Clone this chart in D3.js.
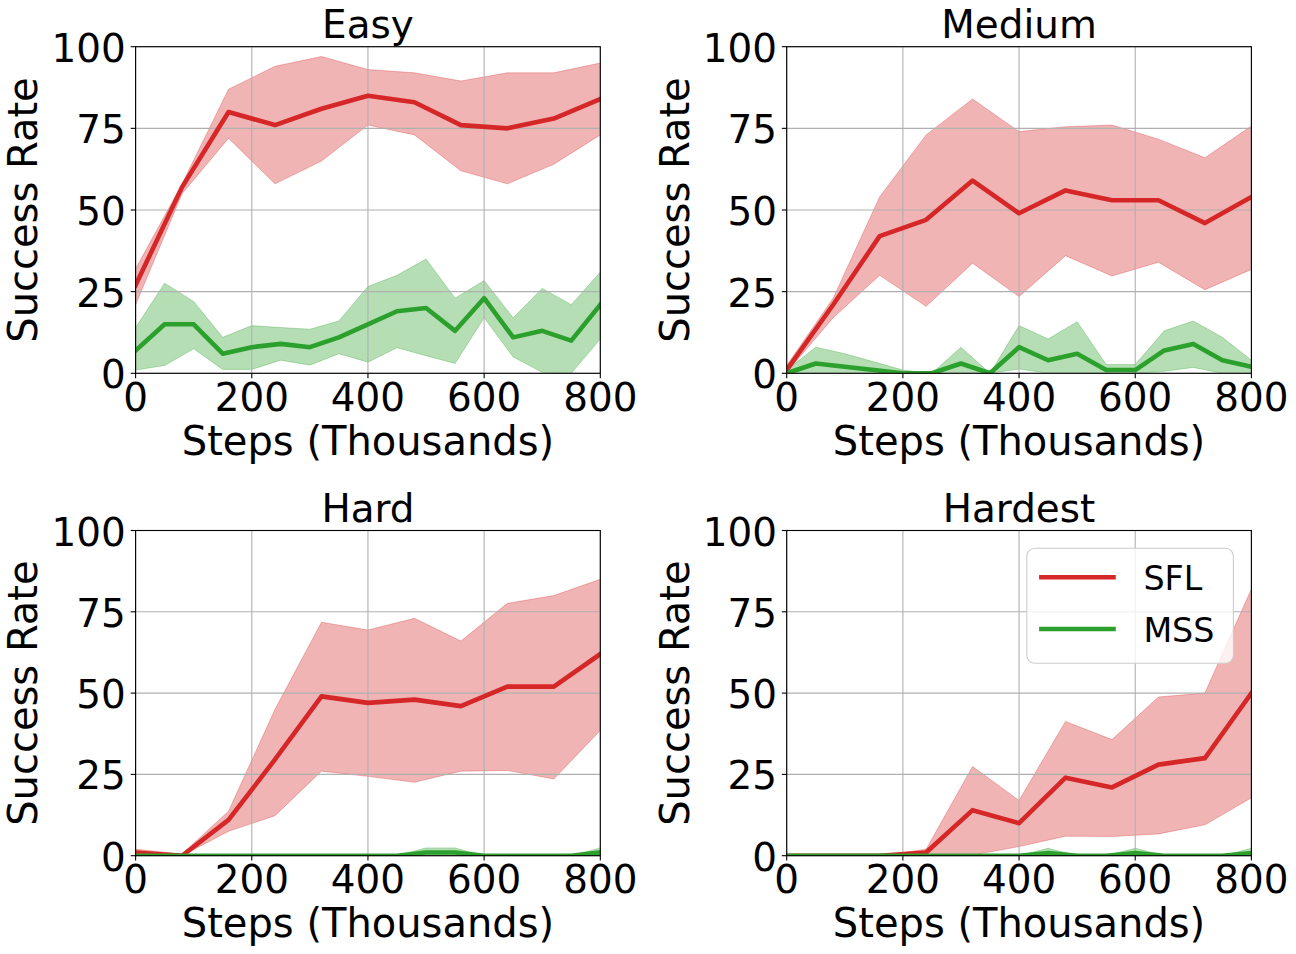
<!DOCTYPE html>
<html><head><meta charset="utf-8">
<script src="https://cdn.jsdelivr.net/npm/d3@7"></script>
<style>body{margin:0;background:#fff}</style>
</head><body>
<svg id="chart" width="1296" height="954"></svg>
<script>
// ---------- data ----------
const titles = ["Easy", "Medium", "Hard", "Hardest"];
const seriesNames = ["SFL", "MSS"];
const xTicks = [0, 200, 400, 600, 800];
const yTicks = [0, 25, 50, 75, 100];
const xLabel = "Steps (Thousands)";
const yLabel = "Success Rate";

const sflSteps = [0, 80, 160, 240, 320, 400, 480, 560, 640, 720, 800];
const mssSteps = [0, 50, 100, 150, 200, 250, 300, 350, 400, 450, 500, 550, 600, 650, 700, 750, 800];

const easySflMean  = [27, 57, 80, 76, 81, 85, 83, 76, 75, 78, 84];
const easySflUpper = [32, 58, 87, 94, 97, 93, 92, 89.5, 92, 92, 95];
const easySflLower = [21, 55, 72, 58, 65, 76, 73, 62, 58, 64, 73];
const easyMssMean  = [7, 15, 15, 6, 8, 9, 8, 11, 15, 19, 20, 13, 23, 11, 13, 10, 21];
const easyMssUpper = [14, 27.6, 22, 11, 14.6, 14, 13.5, 16, 26.6, 30, 35, 23, 28.4, 17, 26, 21, 31];
const easyMssLower = [1, 2.4, 7.5, 1.2, 1.2, 4, 2.5, 6, 3.4, 7.8, 5.4, 3, 17, 5, 0.3, 0, 10.5];

const mediumSflMean  = [1, 21, 42, 47, 59, 49, 56, 53, 53, 46, 54];
const mediumSflUpper = [2.4, 23, 54, 73, 84, 74, 75.5, 76, 71.7, 66, 75.7];
const mediumSflLower = [0.3, 17, 30, 20.5, 33.7, 23.5, 36, 29.8, 34, 25.6, 31.8];
const mediumMssMean  = [0, 3, 2, 1, 0, 0, 3, 0, 8, 4, 6, 1, 1, 7, 9, 4, 2];
const mediumMssUpper = [1, 8, 6, 3.5, 1, 0, 8, 0, 14.6, 10.5, 15.8, 2.7, 2.7, 13, 16, 11, 4];
const mediumMssLower = [0, 0, 0, 0, 0, 0, 0, 0, 1.3, 0, 0, 0, 0, 0.6, 1.8, 0, 0];

const hardSflMean  = [1, 0, 11, 29.6, 49, 47, 48, 46, 52, 52, 62];
const hardSflUpper = [2, 0.5, 13.7, 45, 71.8, 69.4, 73, 66, 77.6, 80, 85];
const hardSflLower = [0, 0, 7.5, 12.3, 26, 24.4, 22.6, 26, 26.2, 23.6, 38.5];
const hardMssMean  = [0, 0, 0, 0, 0, 0, 0, 0, 0, 0, 1, 1, 0, 0, 0, 0, 1];
const hardMssUpper = [0, 0, 0, 0, 0, 0, 0, 0, 0, 0, 2.4, 2.4, 0, 0, 0, 0, 2.4];
const hardMssLower = [0, 0, 0, 0, 0, 0, 0, 0, 0, 0, 0, 0, 0, 0, 0, 0, 0];

const hardestSflMean  = [0, 0, 0, 1, 14, 10, 24, 21, 28, 30, 50];
const hardestSflUpper = [0, 0, 0, 2, 27.4, 17, 41.3, 35.7, 48.8, 50, 82];
const hardestSflLower = [0, 0, 0, 0, 0.2, 2.8, 6, 5.9, 6.7, 9.5, 17.8];
const hardestMssMean  = [0, 0, 0, 0, 0, 0, 0, 0, 0, 0.8, 0, 0, 0.8, 0, 0, 0, 0.8];
const hardestMssUpper = [0, 0, 0, 0, 0, 0, 0, 0, 0, 2.3, 0, 0, 2.3, 0, 0, 0, 2.3];
const hardestMssLower = [0, 0, 0, 0, 0, 0, 0, 0, 0, 0, 0, 0, 0, 0, 0, 0, 0];

// ---------- build ----------
const panelData = [
  { sfl: [easySflMean, easySflLower, easySflUpper], mss: [easyMssMean, easyMssLower, easyMssUpper] },
  { sfl: [mediumSflMean, mediumSflLower, mediumSflUpper], mss: [mediumMssMean, mediumMssLower, mediumMssUpper] },
  { sfl: [hardSflMean, hardSflLower, hardSflUpper], mss: [hardMssMean, hardMssLower, hardMssUpper] },
  { sfl: [hardestSflMean, hardestSflLower, hardestSflUpper], mss: [hardestMssMean, hardestMssLower, hardestMssUpper] }
];
const colors = { SFL: "#d62728", MSS: "#2ca02c" };

const colX = [135.6, 786.7];
const rowY = [46.7, 530.5];
const W = 464.7;
const rowH = [326.6, 325.2];
const FONT = "DejaVu Sans, Liberation Sans, sans-serif";
const FS = 38.9;
const LFS = 40;

const svg = d3.select("#chart");

panelData.forEach((pd, i) => {
  const c = i % 2, r = Math.floor(i / 2);
  const left = colX[c], top = rowY[r], H = rowH[r];
  const x = d3.scaleLinear().domain([0, 800]).range([left, left + W]);
  const y = d3.scaleLinear().domain([0, 100]).range([top + H, top]);
  const g = svg.append("g");

  const clipId = "clip" + i;
  svg.append("clipPath").attr("id", clipId).append("rect")
    .attr("x", left).attr("y", top).attr("width", W).attr("height", H);

  const series = [
    { name: "SFL", steps: sflSteps, d: pd.sfl },
    { name: "MSS", steps: mssSteps, d: pd.mss }
  ];

  // fills
  const fills = g.append("g").attr("clip-path", `url(#${clipId})`);
  series.forEach(s => {
    const pts = s.steps.map((st, k) => ({ x: st, lo: s.d[1][k], hi: s.d[2][k] }));
    const area = d3.area().x(p => x(p.x)).y0(p => y(p.lo)).y1(p => y(p.hi));
    fills.append("path").attr("d", area(pts))
      .attr("fill", colors[s.name]).attr("fill-opacity", 0.35)
      .attr("stroke", colors[s.name]).attr("stroke-opacity", 0.3).attr("stroke-width", 1);
  });

  // grid
  const grid = g.append("g");
  xTicks.forEach(t => grid.append("line")
    .attr("x1", x(t)).attr("x2", x(t)).attr("y1", top).attr("y2", top + H)
    .attr("stroke", "#b0b0b0").attr("stroke-width", 1.1));
  yTicks.forEach(t => grid.append("line")
    .attr("x1", left).attr("x2", left + W).attr("y1", y(t)).attr("y2", y(t))
    .attr("stroke", "#b0b0b0").attr("stroke-width", 1.1));

  // lines
  const lines = g.append("g").attr("clip-path", `url(#${clipId})`);
  series.forEach(s => {
    const pts = s.steps.map((st, k) => ({ x: st, v: s.d[0][k] }));
    const line = d3.line().x(p => x(p.x)).y(p => y(p.v));
    lines.append("path").attr("d", line(pts))
      .attr("fill", "none").attr("stroke", colors[s.name])
      .attr("stroke-width", 4.6).attr("stroke-linejoin", "round").attr("stroke-linecap", "square");
  });

  // spines
  g.append("rect").attr("x", left).attr("y", top).attr("width", W).attr("height", H)
    .attr("fill", "none").attr("stroke", "#000").attr("stroke-width", 1.1);

  // ticks + labels
  const ax = g.append("g").attr("font-family", FONT).attr("font-size", FS).attr("fill", "#000");
  xTicks.forEach(t => {
    ax.append("line").attr("x1", x(t)).attr("x2", x(t)).attr("y1", top + H).attr("y2", top + H + 4.9)
      .attr("stroke", "#000").attr("stroke-width", 1.1);
    ax.append("text").attr("x", x(t)).attr("y", top + H + 37.5)
      .attr("text-anchor", "middle").text(d3.format("d")(t));
  });
  yTicks.forEach(t => {
    ax.append("line").attr("x1", left - 4.9).attr("x2", left).attr("y1", y(t)).attr("y2", y(t))
      .attr("stroke", "#000").attr("stroke-width", 1.1);
    ax.append("text").attr("x", left - 9.8).attr("y", y(t) + 15)
      .attr("text-anchor", "end").text(d3.format("d")(t));
  });

  // axis labels + title
  ax.append("text").attr("x", left + W / 2).attr("y", top + H + 81.3)
    .attr("text-anchor", "middle").attr("font-size", LFS).text(xLabel);
  ax.append("text")
    .attr("transform", `translate(${left - 98.2},${top + H / 2}) rotate(-90)`)
    .attr("text-anchor", "middle").attr("font-size", LFS).text(yLabel);
  ax.append("text").attr("x", left + W / 2).attr("y", top - 8.3)
    .attr("text-anchor", "middle").text(titles[i]);

  // legend on last panel
  if (i === 3) {
    const lg = g.append("g");
    const lx = left + W - 18 - 206.6, ly = top + 17.8;
    lg.append("rect").attr("x", lx).attr("y", ly).attr("width", 206.6).attr("height", 115)
      .attr("rx", 8).attr("ry", 8)
      .attr("fill", "#fff").attr("fill-opacity", 0.8)
      .attr("stroke", "#cccccc").attr("stroke-width", 1.1);
    seriesNames.forEach((nm, k) => {
      const cy = ly + 29 + k * 51.7;
      lg.append("line").attr("x1", lx + 12.3).attr("x2", lx + 89)
        .attr("y1", cy).attr("y2", cy)
        .attr("stroke", colors[nm]).attr("stroke-width", 4.6);
      lg.append("text").attr("x", lx + 116.6).attr("y", cy + 12.7)
        .attr("font-family", FONT).attr("font-size", 33.3).attr("fill", "#000").text(nm);
    });
  }
});
</script>
</body></html>
